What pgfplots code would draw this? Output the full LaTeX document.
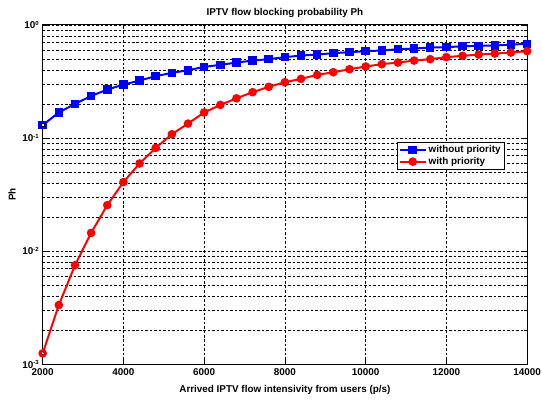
\documentclass[border=0pt]{standalone}
\usepackage{pgfplots}
\pgfplotsset{compat=1.18}
\usepackage{fontspec}
\setmainfont{Liberation Sans}
\newcommand{\tf}{\bfseries\fontsize{10}{12}\selectfont}
\begin{document}
\begin{tikzpicture}[x=1bp,y=1bp]
\begin{axis}[
  scale only axis, width=488bp, height=342bp,
  ymode=log, xmin=2000, xmax=14000, ymin=1e-3, ymax=1,
  xtick={2000,4000,6000,8000,10000,12000,14000},
  scaled x ticks=false,
  ytick={1e-3,1e-2,1e-1,1},
  yticklabels={{10\textsuperscript{\fontsize{6}{7}\selectfont -3}},{10\textsuperscript{\fontsize{6}{7}\selectfont -2}},{10\textsuperscript{\fontsize{6}{7}\selectfont -1}},{10\textsuperscript{\fontsize{6}{7}\selectfont 0}}},
  /pgf/number format/assume math mode=true,
  /pgf/number format/1000 sep={},
  tick label style={font=\tf},
  xticklabel style={yshift=-1bp},
  grid=both,
  major grid style={black, line width=0.5bp, dash pattern=on 2.5bp off 2bp},
  minor grid style={black, line width=0.5bp, dash pattern=on 2.5bp off 2bp},
  axis line style={black, line width=0.7bp},
  tick style={black, line width=0.5bp},
  tick align=inside,
  title={IPTV flow blocking probability  Ph},
  title style={font=\tf, at={(axis description cs:0.5,1)}, anchor=south, yshift=-2bp},
  xlabel={Arrived IPTV flow intensivity from users (p/s)},
  xlabel style={font=\tf, at={(axis description cs:0.5,-0.076)}, anchor=center},
  ylabel={Ph},
  ylabel style={font=\tf, at={(axis description cs:-0.063,0.5)}, anchor=center},
  legend style={at={(0.953,0.655)}, anchor=north east, font=\tf, draw=black, line width=0.6bp, inner sep=1.5bp, row sep=-1bp},
  legend cell align=left,
  legend image code/.code={\draw[mark repeat=2,mark phase=2] plot coordinates {(0bp,0bp) (13bp,0bp) (26bp,0bp)};},
]
\addplot[blue, line width=2bp, mark=square*, mark size=3.3bp, mark options={solid}] coordinates {
(2000,0.130) (2400,0.168) (2800,0.200) (3200,0.235) (3600,0.268) (4000,0.296)
(4400,0.322) (4800,0.352) (5200,0.376) (5600,0.397) (6000,0.425) (6400,0.443)
(6800,0.464) (7200,0.483) (7600,0.497) (8000,0.518) (8400,0.535) (8800,0.546)
(9200,0.562) (9600,0.573) (10000,0.585) (10400,0.593) (10800,0.609) (11200,0.617)
(11600,0.630) (12000,0.634) (12400,0.647) (12800,0.652) (13200,0.656) (13600,0.669)
(14000,0.679)};
\addlegendentry{without priority}
\addplot[red, line width=2bp, mark=*, mark size=3.3bp, mark options={solid}] coordinates {
(2000,0.00125) (2400,0.00334) (2800,0.0075) (3200,0.0145) (3600,0.0255) (4000,0.0408)
(4400,0.0595) (4800,0.0817) (5200,0.108) (5600,0.134) (6000,0.168) (6400,0.196)
(6800,0.224) (7200,0.254) (7600,0.283) (8000,0.311) (8400,0.333) (8800,0.361)
(9200,0.381) (9600,0.405) (10000,0.428) (10400,0.449) (10800,0.464) (11200,0.483)
(11600,0.497) (12000,0.518) (12400,0.532) (12800,0.546) (13200,0.557) (13600,0.569)
(14000,0.585)};
\addlegendentry{with priority}
\addplot[only marks, mark=square*, mark size=1.6bp, draw=none, fill=white, forget plot] coordinates {(2000,0.130)};
\addplot[only marks, mark=*, mark size=1.6bp, draw=none, fill=white, forget plot] coordinates {(2000,0.00125)};
\end{axis}
\pgfresetboundingbox
\path ([xshift=-43bp,yshift=-38bp]current axis.south west) rectangle ([xshift=15bp,yshift=25bp]current axis.north east);
\end{tikzpicture}
\end{document}
